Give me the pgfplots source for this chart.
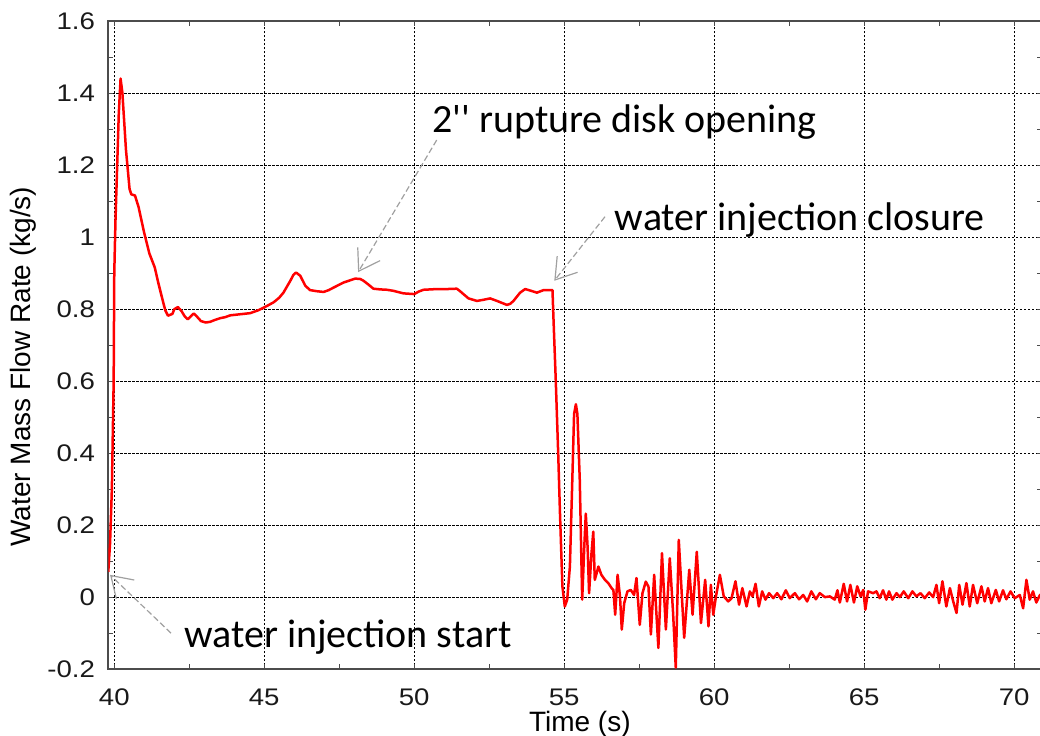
\documentclass[border=0pt]{standalone}
\usepackage{pgfplots}
\pgfplotsset{compat=1.18}
\usepackage{fontspec}
\setmainfont{Liberation Sans}
\newfontfamily\tickfont[FakeStretch=1.15]{Liberation Sans}
\newfontfamily\calibri{Carlito}
\usetikzlibrary{arrows.meta}
\definecolor{annot}{RGB}{160,160,160}
\begin{document}
\begin{tikzpicture}
\begin{axis}[
  scale only axis, width=467pt, height=324pt,
  xmin=39.8, xmax=70.93, ymin=-0.2, ymax=1.6,
  xtick={40,45,50,55,60,65,70},
  ytick={-0.2,0,0.2,0.4,0.6,0.8,1,1.2,1.4,1.6},
  yticklabels={-0.2,0,0.2,0.4,0.6,0.8,1,1.2,1.4,1.6},
  minor x tick num=1, minor y tick num=1,
  tick align=inside,
  major tick length=2.5pt, minor tick length=2.5pt,
  grid=major,
  major grid style={black, line width=0.5pt, dash pattern=on 1.2pt off 0.8pt},
  axis line style={draw=black!70, line width=0.8pt},
  tick style={black!70, line width=0.6pt},
  /pgf/number format/assume math mode=true,
  ticklabel style={font=\tickfont\fontsize{12}{14}\selectfont, text=black!90},
  xticklabel style={anchor=base, yshift=-18.3pt, inner sep=0pt},
  yticklabel style={anchor=east, inner sep=0pt, xshift=-6.5pt},
  xlabel={Time (s)},
  ylabel={Water Mass Flow Rate (kg/s)},
  label style={font=\fontsize{14}{16}\selectfont},
  xlabel style={at={(axis description cs:0.505,0)}, anchor=base, yshift=-31pt, inner sep=0pt},
  ylabel style={at={(axis description cs:-0.091,0.467)}, anchor=center, inner sep=0pt},
]
\addplot[red, line width=1.25pt, line join=round] coordinates {
(39.80,0.07)(39.86,0.15)(39.92,0.30)(39.98,0.60)(40.00,0.90)(40.04,1.045)
(40.15,1.342)(40.21,1.441)(40.27,1.402)(40.39,1.243)(40.51,1.134)(40.57,1.119)
(40.69,1.116)(40.81,1.084)(40.99,1.015)(41.17,0.955)(41.35,0.916)(41.46,0.876)
(41.58,0.836)(41.70,0.797)(41.79,0.782)(41.94,0.787)(42.00,0.800)(42.12,0.806)
(42.24,0.795)(42.35,0.780)(42.45,0.772)(42.55,0.780)(42.65,0.788)(42.75,0.780)
(42.89,0.767)(43.05,0.763)(43.20,0.765)(43.35,0.770)(43.53,0.775)(43.70,0.778)
(43.87,0.783)(44.20,0.786)(44.53,0.789)(44.80,0.797)(45.00,0.805)(45.31,0.819)
(45.50,0.832)(45.64,0.846)(45.87,0.879)(45.97,0.895)(46.06,0.902)(46.20,0.893)
(46.37,0.865)(46.53,0.853)(46.75,0.850)(46.98,0.848)(47.15,0.853)(47.31,0.860)
(47.64,0.874)(48.03,0.885)(48.20,0.884)(48.31,0.879)(48.45,0.870)(48.64,0.857)
(48.87,0.855)(49.09,0.854)(49.31,0.851)(49.64,0.844)(50.00,0.842)(50.15,0.849)
(50.31,0.854)(50.76,0.856)(51.10,0.856)(51.42,0.857)(51.53,0.850)(51.64,0.842)
(51.81,0.830)(52.09,0.823)(52.30,0.826)(52.53,0.830)(52.76,0.823)(53.09,0.812)
(53.20,0.815)(53.31,0.823)(53.53,0.846)(53.70,0.856)(53.90,0.851)(54.09,0.846)
(54.31,0.853)(54.45,0.853)(54.61,0.853)(54.64,0.78)(54.72,0.60)(54.80,0.40)
(54.86,0.232)(54.94,0.03)(55.02,-0.026)(55.10,-0.007)(55.19,0.085)(55.27,0.324)
(55.33,0.509)(55.39,0.536)(55.44,0.509)(55.52,0.324)(55.60,-0.007)(55.67,0.14)
(55.72,0.232)(55.78,0.14)(55.83,0.011)(55.91,0.122)(55.97,0.182)(56.02,0.048)
(56.08,0.066)(56.14,0.085)(56.24,0.062)(56.36,0.048)(56.47,0.039)(56.58,0.025)
(56.64,0.020)(56.70,-0.049)(56.78,0.062)(56.86,0.002)(56.92,-0.09)(57.00,-0.017)
(57.11,0.016)(57.22,0.02)(57.33,0.006)(57.41,0.053)(57.52,-0.077)(57.61,0.011)
(57.72,0.043)(57.81,0.029)(57.89,-0.104)(58.00,0.062)(58.14,-0.141)(58.26,0.122)
(58.39,-0.09)(58.52,0.108)(58.63,-0.044)(58.72,-0.196)(58.82,0.159)(59.00,-0.113)
(59.17,0.076)(59.28,-0.049)(59.42,0.126)(59.56,-0.072)(59.70,0.048)(59.81,-0.081)
(59.89,0.034)(59.97,-0.049)(60.06,0.002)(60.19,0.062)(60.32,0.002)(60.47,-0.012)
(60.58,-0.003)(60.71,0.044)(60.83,-0.021)(60.94,0.025)(61.08,-0.026)(61.19,0.016)
(61.28,0.002)(61.38,0.037)(61.49,-0.026)(61.60,0.016)(61.71,-0.007)(61.83,0.011)
(61.97,-0.003)(62.10,0.011)(62.24,-0.006)(62.39,0.019)(62.52,-0.003)(62.69,0.011)
(62.83,-0.006)(62.97,0.006)(63.10,-0.012)(63.24,0.016)(63.39,-0.006)(63.52,0.011)
(63.69,0.0)(63.86,0.002)(64.02,-0.007)(64.11,0.019)(64.19,-0.015)(64.32,0.037)
(64.43,-0.012)(64.54,0.034)(64.66,-0.015)(64.77,0.03)(64.88,0.002)(64.97,0.02)
(65.04,-0.035)(65.13,0.016)(65.30,0.011)(65.41,0.016)(65.52,-0.003)(65.63,0.019)
(65.74,-0.007)(65.83,0.016)(65.94,-0.007)(66.08,0.011)(66.19,0.0)(66.32,0.016)
(66.47,-0.003)(66.61,0.016)(66.74,0.002)(66.88,0.011)(67.02,-0.003)(67.17,0.013)
(67.30,0.0)(67.41,0.034)(67.50,-0.017)(67.61,0.044)(67.74,-0.026)(67.86,0.025)
(67.97,-0.012)(68.08,-0.044)(68.17,0.034)(68.28,-0.021)(68.41,0.039)(68.52,-0.026)
(68.63,0.034)(68.77,-0.017)(68.91,0.03)(69.02,-0.012)(69.13,0.025)(69.24,-0.017)
(69.39,0.02)(69.50,-0.012)(69.63,0.019)(69.74,-0.006)(69.88,0.016)(70.02,-0.003)
(70.19,0.006)(70.30,-0.031)(70.41,0.048)(70.52,-0.007)(70.63,0.016)(70.74,-0.015)
(70.86,0.006)(70.93,0.0)
};
% annotations
\draw[annot, line width=0.6pt, dash pattern=on 3pt off 1.5pt,
  -{Straight Barb[length=10pt, width=13pt, line width=0.6pt]}]
  (axis cs:41.89,-0.10) -- (axis cs:39.86,0.062);
\draw[annot, line width=0.6pt, dash pattern=on 3pt off 1.5pt,
  -{Straight Barb[length=10pt, width=13pt, line width=0.6pt]}]
  (axis cs:50.75,1.27) -- (axis cs:48.13,0.903);
\draw[annot, line width=0.6pt, dash pattern=on 3pt off 1.5pt,
  -{Straight Barb[length=10pt, width=13pt, line width=0.6pt]}]
  (axis cs:56.36,1.057) -- (axis cs:54.67,0.879);
\node[anchor=base west, inner sep=0pt, font=\calibri\fontsize{20}{24}\selectfont]
  at (axis cs:42.32,-0.141) {water injection start};
\node[anchor=base west, inner sep=0pt, font=\calibri\fontsize{20}{24}\selectfont]
  at (axis cs:50.59,1.292) {2'' rupture disk opening};
\node[anchor=base west, inner sep=0pt, font=\calibri\fontsize{20}{24}\selectfont]
  at (axis cs:56.68,1.020) {water injection closure};
\end{axis}
\pgfresetboundingbox
\useasboundingbox ([shift={(-54.15pt,-33.35pt)}]current axis.south west)
  rectangle ([shift={(-1pt,10.65pt)}]current axis.north east);
\end{tikzpicture}
\end{document}
